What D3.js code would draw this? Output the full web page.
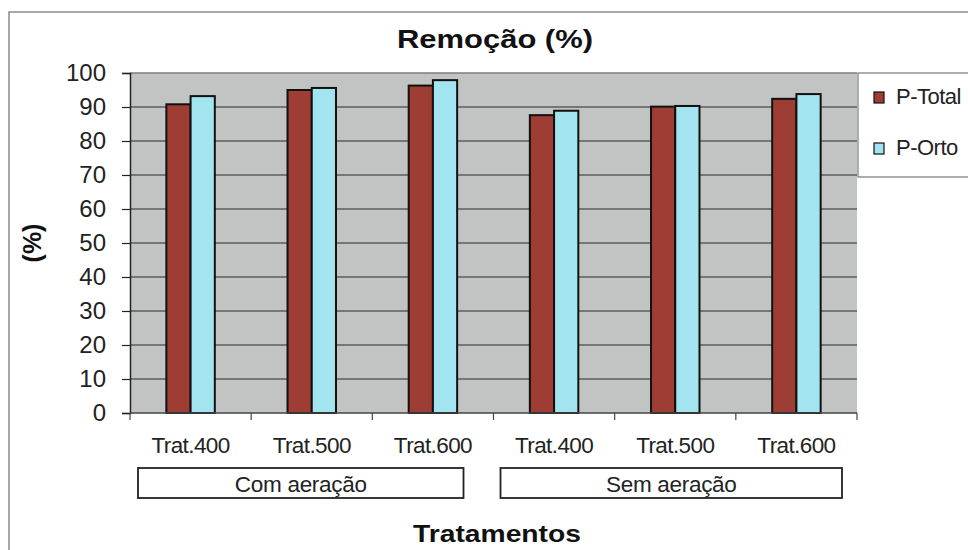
<!DOCTYPE html>
<html>
<head>
<meta charset="utf-8">
<script src="https://cdn.jsdelivr.net/npm/d3@7"></script>
<style>
  body { margin: 0; background: #fff; }
  svg { display: block; font-family: 'Liberation Sans', Arial, sans-serif; }
</style>
</head>
<body>
<div id="chart"></div>
<script>
// data
const categories = ['Trat.400', 'Trat.500', 'Trat.600', 'Trat.400', 'Trat.500', 'Trat.600'];
const groupNames = ['Com aeração', 'Sem aeração'];
const seriesNames = ['P-Total', 'P-Orto'];
const pTotal = [90.8, 95.0, 96.3, 87.6, 90.1, 92.4];
const pOrto = [93.2, 95.6, 97.9, 88.9, 90.3, 93.8];
const yTicks = [0, 10, 20, 30, 40, 50, 60, 70, 80, 90, 100];

const colors = ['#9e3d33', '#a2e4ef'];
const width = 968, height = 550;
const margin = { top: 73, right: 111, bottom: 137, left: 130 };

const svg = d3.select('#chart').append('svg')
    .attr('width', width)
    .attr('height', height);

// outer chart frame
svg.append('rect')
    .attr('x', 9).attr('y', 12)
    .attr('width', 1000).attr('height', 600)
    .attr('fill', 'none')
    .attr('stroke', '#8a8a8a')
    .attr('stroke-width', 1.5);

const plotW = width - margin.left - margin.right;
const plotH = height - margin.top - margin.bottom;

const x = d3.scaleBand()
    .domain(d3.range(categories.length))
    .range([0, plotW]);

const barW = x.bandwidth() * 0.2;
const x1 = d3.scaleBand()
    .domain(seriesNames)
    .range([x.bandwidth() / 2 - barW, x.bandwidth() / 2 + barW]);

const y = d3.scaleLinear()
    .domain([0, 100])
    .range([plotH, 0]);

const chart = svg.append('g')
    .attr('transform', `translate(${margin.left}, ${margin.top})`);

chart.append('rect')
    .attr('width', plotW).attr('height', plotH)
    .attr('fill', '#c2c3c3');

// gridlines
chart.append('g')
    .selectAll('line')
    .data(yTicks.filter(d => d > 0 && d < 100))
    .join('line')
    .attr('x1', 0).attr('x2', plotW)
    .attr('y1', d => y(d)).attr('y2', d => y(d))
    .attr('stroke', '#2a2a2a')
    .attr('stroke-width', 1.2);

chart.append('line')
    .attr('x1', 0).attr('x2', plotW)
    .attr('y1', y(100)).attr('y2', y(100))
    .attr('stroke', '#7d7d7d')
    .attr('stroke-width', 1.5);

// bars
const rows = categories.map((c, i) => ({ i, values: [pTotal[i], pOrto[i]] }));
const groups = chart.append('g')
    .selectAll('g')
    .data(rows)
    .join('g')
    .attr('transform', d => `translate(${x(d.i)}, 0)`);

groups.selectAll('rect')
    .data(d => d.values.map((v, k) => ({ name: seriesNames[k], v, k })))
    .join('rect')
    .attr('x', d => x1(d.name))
    .attr('y', d => y(d.v))
    .attr('width', x1.bandwidth())
    .attr('height', d => y(0) - y(d.v))
    .attr('fill', d => colors[d.k])
    .attr('stroke', '#111')
    .attr('stroke-width', 2);

// y axis
const yAxis = d3.axisLeft(y).tickValues(yTicks).tickSize(8).tickPadding(16);
const yG = chart.append('g').call(yAxis);
yG.select('.domain').attr('stroke', '#222').attr('stroke-width', 1.5);
yG.selectAll('.tick line').attr('stroke', '#222').attr('stroke-width', 1.2);
yG.selectAll('.tick text')
    .attr('font-size', 24)
    .attr('font-family', "'Liberation Sans', Arial, sans-serif")
    .attr('fill', '#222');

// x axis with ticks on band boundaries
const xG = chart.append('g').attr('transform', `translate(0, ${plotH})`);
xG.append('line')
    .attr('x1', 0).attr('x2', plotW)
    .attr('stroke', '#444').attr('stroke-width', 1.5);
xG.selectAll('line.tk')
    .data(d3.range(categories.length + 1))
    .join('line')
    .attr('class', 'tk')
    .attr('x1', d => d * x.step()).attr('x2', d => d * x.step())
    .attr('y1', 0).attr('y2', 7)
    .attr('stroke', '#444').attr('stroke-width', 1.2);
xG.selectAll('text')
    .data(categories)
    .join('text')
    .attr('x', (d, i) => x(i) + x.bandwidth() / 2)
    .attr('y', 40)
    .attr('text-anchor', 'middle')
    .attr('font-size', 22.5)
    .attr('letter-spacing', -0.6)
    .attr('fill', '#222')
    .text(d => d);

// group label boxes
const boxInset = [[8, 30], [7, 15]];
groupNames.forEach((g, gi) => {
    const x0 = x(gi * 3) + boxInset[gi][0];
    const xEnd = x(gi * 3 + 2) + x.step() - boxInset[gi][1];
    const bg = xG.append('g');
    bg.append('rect')
        .attr('x', x0).attr('y', 55)
        .attr('width', xEnd - x0).attr('height', 30)
        .attr('fill', '#fff')
        .attr('stroke', '#222').attr('stroke-width', 1.8);
    bg.append('text')
        .attr('x', (x0 + xEnd) / 2).attr('y', 79)
        .attr('text-anchor', 'middle')
        .attr('font-size', 22.5)
        .attr('letter-spacing', -0.3)
        .attr('fill', '#222')
        .text(g);
});

// titles
svg.append('text')
    .attr('x', 495).attr('y', 48)
    .attr('text-anchor', 'middle')
    .attr('font-size', 26)
    .attr('font-weight', 'bold')
    .attr('textLength', 196)
    .attr('lengthAdjust', 'spacingAndGlyphs')
    .attr('fill', '#111')
    .text('Remoção (%)');

svg.append('text')
    .attr('x', 497).attr('y', 542)
    .attr('text-anchor', 'middle')
    .attr('font-size', 24)
    .attr('font-weight', 'bold')
    .attr('textLength', 168)
    .attr('lengthAdjust', 'spacingAndGlyphs')
    .attr('fill', '#111')
    .text('Tratamentos');

svg.append('text')
    .attr('transform', 'translate(41, 243) rotate(-90)')
    .attr('text-anchor', 'middle')
    .attr('font-size', 25)
    .attr('font-weight', 'bold')
    .attr('fill', '#111')
    .text('(%)');

// legend
const legend = svg.append('g').attr('transform', `translate(${margin.left + plotW + 1}, ${margin.top})`);
legend.append('rect')
    .attr('width', 200).attr('height', 104)
    .attr('fill', '#fff')
    .attr('stroke', '#777').attr('stroke-width', 1.2);
const items = legend.selectAll('g.item')
    .data(seriesNames)
    .join('g')
    .attr('class', 'item')
    .attr('transform', (d, i) => `translate(16, ${19 + i * 51})`);
items.append('rect')
    .attr('width', 10).attr('height', 11)
    .attr('fill', (d, i) => colors[i])
    .attr('stroke', '#111').attr('stroke-width', 1.2);
items.append('text')
    .attr('x', 22).attr('y', 12)
    .attr('font-size', 22)
    .attr('letter-spacing', -0.5)
    .attr('fill', '#222')
    .text(d => d);
</script>
</body>
</html>
